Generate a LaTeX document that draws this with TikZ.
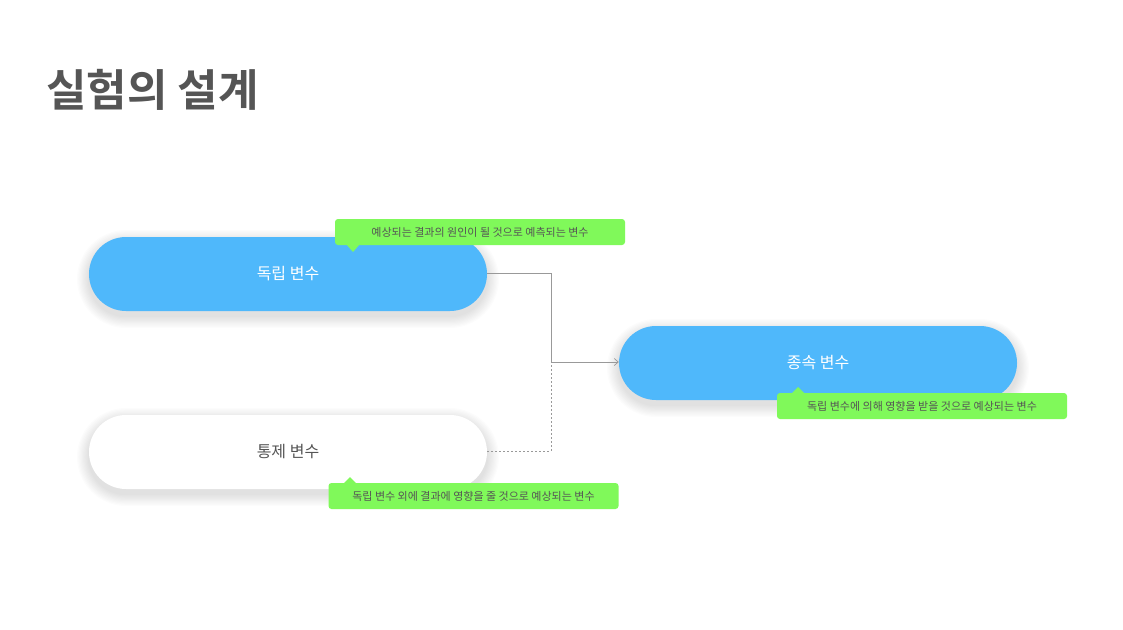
\documentclass[tikz,border=0pt]{standalone}
\usepackage{fontspec}
\setmainfont{Noto Sans CJK KR}
\newfontfamily\krbold{Noto Sans CJK KR Bold}
\usetikzlibrary{arrows.meta}
\definecolor{pillblue}{HTML}{4FB8FB}
\definecolor{tipgreen}{HTML}{80F95A}
\definecolor{txtgray}{HTML}{555555}
\newcommand{\pillshadow}[2]{%
  \foreach \r in {1,...,10}{%
    \pgfmathsetmacro{\rr}{37+\r*1.2}%
    \pgfmathsetmacro{\xa}{#1-199-\r*1.2}%
    \pgfmathsetmacro{\xb}{#1+199+\r*1.2}%
    \pgfmathsetmacro{\ya}{#2+5-\rr}%
    \pgfmathsetmacro{\yb}{#2+5+\rr}%
    \fill[black,opacity=0.012,rounded corners=\rr pt] (\xa,\ya) rectangle (\xb,\yb);
  }}
\tikzset{
 pill/.style={rounded corners=37pt,minimum width=398pt,minimum height=74pt,inner sep=0pt,font=\fontsize{16}{18}\selectfont},
 tip/.style={fill=tipgreen,rounded corners=3pt,minimum width=290pt,minimum height=26pt,inner sep=0pt,text=txtgray,font=\fontsize{11}{12}\selectfont},
 conn/.style={draw=gray!80,line width=0.7pt}
}
\begin{document}
\begin{tikzpicture}[x=1pt,y=-1pt]
\useasboundingbox[fill=white] (0,0) rectangle (1123,629);
\node[anchor=base west,text=txtgray,font=\krbold\fontsize{44}{48}\selectfont,inner sep=0pt] (title) at (46,106) {실험의 설계};
\pillshadow{288}{274}
\pillshadow{818}{363}
\pillshadow{288}{452}
\node[pill,fill=pillblue,text=white] (ind) at (288,274) {독립 변수};
\node[pill,fill=pillblue,text=white] (dep) at (818,363) {종속 변수};
\node[pill,fill=white,text=txtgray] (ctl) at (288,452) {통제 변수};
\coordinate (j) at (551,362);
\draw[conn,-{Straight Barb[length=4pt,width=7pt]}] (ind.east |- 0,273) -| (j) -- (dep.west |- j);
\draw[conn,dashed,dash pattern=on 2pt off 2pt] (ctl.east |- 0,451) -| (j);
\node[tip] (t1) at (480,232) {예상되는 결과의 원인이 될 것으로 예측되는 변수};
\fill[tipgreen] (346,244) -- (360,244) -- (353,252) -- cycle;
\node[tip] (t2) at (922,406) {독립 변수에 의해 영향을 받을 것으로 예상되는 변수};
\fill[tipgreen] (791,394) -- (805,394) -- (798,387) -- cycle;
\node[tip] (t3) at (473.5,496) {독립 변수 외에 결과에 영향을 줄 것으로 예상되는 변수};
\fill[tipgreen] (343,484) -- (357,484) -- (350,477) -- cycle;
\end{tikzpicture}
\end{document}
